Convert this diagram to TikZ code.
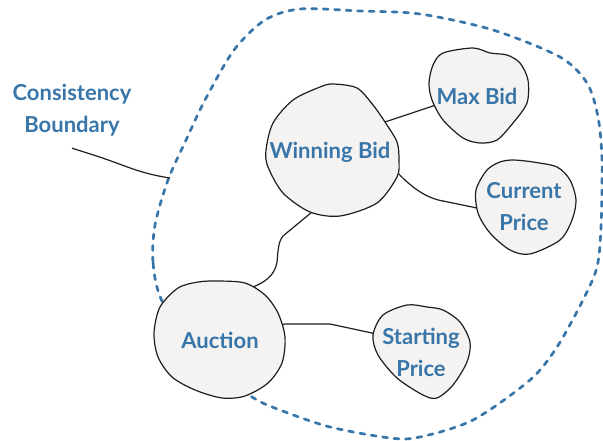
\documentclass[tikz,border=0pt]{standalone}
\usepackage{fontspec}
\newfontfamily\lblfont{Lato}
\usepackage{tikz}
\definecolor{CBBlue}{RGB}{56,118,170}
\definecolor{CBFill}{RGB}{244,243,242}
\definecolor{CBLine}{RGB}{30,30,30}
\pgfdeclarelayer{back}
\pgfdeclarelayer{blobs}
\pgfsetlayers{back,blobs,main}

\begin{document}
\begin{tikzpicture}[x=1pt, y=-1pt,
      lbl/.style={align=center, inner sep=0pt, text=CBBlue,
                  font=\lblfont\bfseries\fontsize{22}{32}\selectfont},
      blob/.style={draw=CBLine, fill=CBFill, line width=1.2pt},
      link/.style={draw=CBLine, line width=1.2pt},
      bound/.style={draw=CBBlue, line width=2.7pt, line cap=round,
                    dash pattern=on 5pt off 6.5pt}
    ]
    \useasboundingbox (0,0) rectangle (603,441);

    \node[lbl] (cb)      at (72,110)  {Consistency\\Boundary};
    \node[lbl] (wb)      at (330,152) {Winning Bid};
    \node[lbl] (maxbid)  at (477,96)  {Max Bid};
    \node[lbl] (curp)    at (524,207) {Current\\Price};
    \node[lbl] (auction) at (220,340) {Auction};
    \node[lbl] (start)   at (421,352) {Starting\\Price};
    \coordinate (cbtip) at (170,178);

    \begin{pgfonlayer}{blobs}
      \draw[blob] plot[smooth cycle] coordinates {(333,84) (357,88) (373,105)
        (385,122) (397,142) (399,160) (397,177) (377,203) (340,216) (310,212)
        (283,193) (268,167) (266,150) (273,123) (293,100) (320,87)};
      \draw[blob] plot[smooth cycle] coordinates {(473,48) (490,53) (507,55)
        (520,63) (528,80) (527,103) (513,123) (497,140) (480,143) (463,138)
        (443,120) (432,100) (429,83) (433,65) (443,53)};
      \draw[blob] plot[smooth cycle] coordinates {(513,160) (533,162) (557,167)
        (570,180) (576,200) (572,220) (560,240) (530,254) (510,250) (490,233)
        (478,213) (476,190) (487,170) (500,162)};
      \draw[blob] plot[smooth cycle] coordinates {(218,281) (245,283) (265,295)
        (278,313) (285,337) (282,363) (268,383) (245,396) (222,398) (195,390)
        (172,377) (158,357) (154,333) (160,307) (178,288) (198,282)};
      \draw[blob] plot[smooth cycle] coordinates {(407,305) (427,307) (443,310)
        (460,322) (470,342) (467,362) (453,385) (437,398) (423,395) (397,378)
        (378,355) (373,335) (383,315)};
    \end{pgfonlayer}

    \begin{pgfonlayer}{back}
      % consistency boundary
      \draw[bound] plot[smooth cycle] coordinates {(162,301) (153,262) (155,225)
        (168,180) (187,138) (205,100) (234,50) (265,20) (300,9) (360,11)
        (420,14) (493,30) (560,57) (587,83) (598,117) (602,160) (601,227)
        (597,267) (583,300) (557,347) (530,380) (473,420) (420,437) (390,438)
        (330,427) (280,410) (252,397) (200,360)};

      \draw[link] ([yshift=-12pt]cb.south) .. controls (100,157) .. (122,165)
        .. controls (135,170) and (150,175) .. (cbtip);
      \draw[link] (wb) -- (385,122) -- (433,106) -- (maxbid);
      \draw[link] (wb) -- (396,171) .. controls (410,186) and (425,198) .. (443,201)
        -- (477,208) -- (curp);
      \draw[link] (wb) -- (312,212) -- (283,236) .. controls (278,242) and (278,252) .. (277,262)
        .. controls (275,275) and (265,283) .. (250,288) -- (auction);
      \draw[link] (auction) -- (285,324) -- (330,324) -- (372,333) -- (start);
    \end{pgfonlayer}
  \end{tikzpicture}
\end{document}
